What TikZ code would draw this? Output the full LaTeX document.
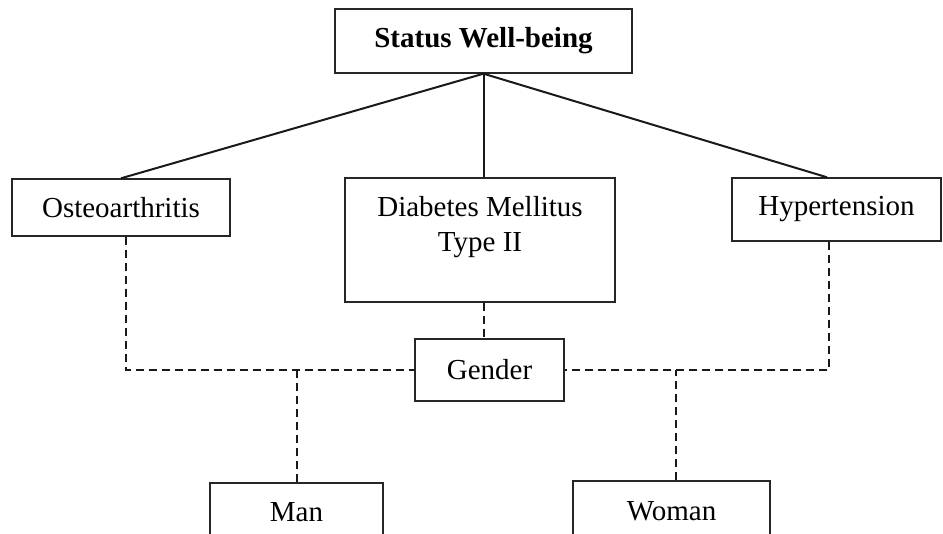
\documentclass[tikz,border=0pt]{standalone}
\usepackage{fontspec}
\setmainfont{Liberation Serif}
\begin{document}
\begin{tikzpicture}[x=1pt,y=-1pt,
  box/.style={draw=black!85, line width=1.4pt, rectangle, inner sep=0pt, align=center, font=\fontsize{29}{35}\selectfont},
  plain/.style={inner sep=0pt, align=center, font=\fontsize{29}{35}\selectfont},
  conn/.style={line width=2pt, black!90},
  dconn/.style={line width=2pt, black!90, dash pattern=on 8pt off 5pt}]
\useasboundingbox (0,0) rectangle (943,534);
\clip (0,0) rectangle (943,534);
\node[box, font=\fontsize{29}{35}\selectfont\bfseries, minimum width=297pt, minimum height=64pt] (sw) at (483.5,41) {Status Well-being};
\node[box, minimum width=218pt, minimum height=57pt] (oa) at (121,207.5) {Osteoarthritis};
\node[box, minimum width=270pt, minimum height=124pt] (dm) at (480,240) {};
\node[plain] (dmt) at (480,227) {Diabetes Mellitus\\Type II};
\node[box, minimum width=209pt, minimum height=63pt] (ht) at (836.5,209.5) {Hypertension};
\node[box, minimum width=149pt, minimum height=62pt] (g) at (489.5,370) {Gender};
\node[box, minimum width=173pt, minimum height=58pt] (man) at (296.5,512) {Man};
\node[box, minimum width=197pt, minimum height=60pt] (wo) at (671.5,511) {Woman};
% solid connectors
\draw[conn] (sw.south) -- (oa.north);
\draw[conn] (sw.south) -- (sw.south |- dm.north);
\draw[conn] (sw.south) -- ([xshift=-9.5pt]ht.north);
% dashed connectors
\draw[dconn] (sw.south |- dm.south) -- (sw.south |- g.north);
\draw[dconn] ([xshift=5pt]oa.south) |- (g.west);
\draw[dconn] ([xshift=-7.5pt]ht.south) |- (g.east);
\draw[dconn] (man.north) -- (man.north |- g.west);
\draw[dconn] ([xshift=4pt]wo.north) -- ([xshift=4pt]wo.north |- g.east);
\end{tikzpicture}
\end{document}
